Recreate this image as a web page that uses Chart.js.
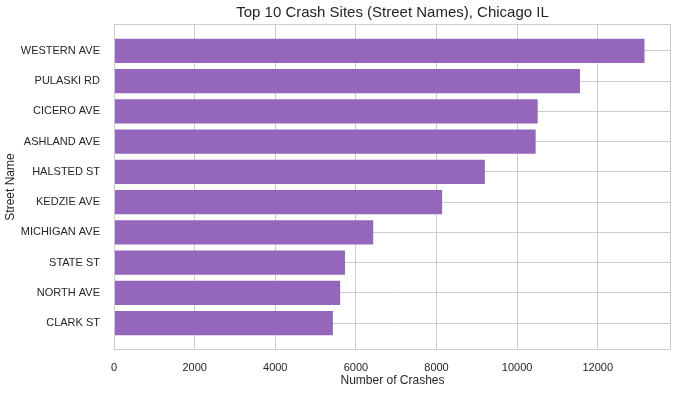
<!DOCTYPE html>
<html>
<head>
<meta charset="utf-8">
<title>Top 10 Crash Sites</title>
<script src="https://cdn.jsdelivr.net/npm/chart.js@4"></script>
<style>
  html, body { margin: 0; padding: 0; background: #fff; }
  canvas { display: block; }
</style>
</head>
<body>
<canvas id="crash-chart" width="678" height="394"></canvas>
<script>
// Streets, most crashes first (top of the chart)
const streets = [
    "WESTERN AVE",
    "PULASKI RD",
    "CICERO AVE",
    "ASHLAND AVE",
    "HALSTED ST",
    "KEDZIE AVE",
    "MICHIGAN AVE",
    "STATE ST",
    "NORTH AVE",
    "CLARK ST",
];

// Number of crashes per street
const crashes = [13160, 11560, 10510, 10460, 9200, 8140, 6430, 5730, 5610, 5430];

// Tick labels on the x axis
const xTicks = [0, 2000, 4000, 6000, 8000, 10000, 12000];

const textColor = '#262626';
const gridColor = '#cccccc';
const fontFamily = '"Liberation Sans", Arial, sans-serif';

// Light grey box round the plot area, like the seaborn whitegrid frame
const frame = {
    id: 'frame',
    afterDatasetsDraw(chart) {
        const { ctx, chartArea: a } = chart;
        ctx.save();
        ctx.strokeStyle = gridColor;
        ctx.lineWidth = 1;
        ctx.strokeRect(a.left + 0.5, a.top + 0.5, a.right - a.left - 1, a.bottom - a.top - 1);
        ctx.restore();
    }
};

const ctx = document.getElementById('crash-chart').getContext('2d');
const myChart = new Chart(ctx, {
    type: 'bar',
    data: {
        datasets: [{
            data: crashes.map((v, i) => ({ x: v, y: i })),
            backgroundColor: '#9467bd',
            borderWidth: 0,
            categoryPercentage: 0.8,
            barPercentage: 1,
        }],
    },
    options: {
        indexAxis: 'y',
        responsive: false,
        animation: false,
        layout: { padding: { top: 0, right: 7, bottom: 0, left: 0 } },
        plugins: {
            legend: { display: false },
            tooltip: { enabled: false },
            title: {
                display: true,
                fullSize: false,
                text: 'Top 10 Crash Sites (Street Names), Chicago IL',
                color: textColor,
                font: { family: fontFamily, size: 15, weight: 'normal', lineHeight: 1.2 },
                padding: { top: 4, bottom: 2 },
            },
        },
        scales: {
            x: {
                type: 'linear',
                min: 0,
                max: 13817,
                afterBuildTicks: (scale) => { scale.ticks = xTicks.map(v => ({ value: v })); },
                afterFit: (scale) => { scale.height = 44; },
                grid: { color: gridColor, lineWidth: 1, drawTicks: false },
                border: { display: false },
                ticks: {
                    color: textColor,
                    font: { family: fontFamily, size: 11 },
                    padding: 11,
                    maxRotation: 0,
                    includeBounds: false,
                    callback: (v) => String(v),
                },
                title: {
                    display: true,
                    text: 'Number of Crashes',
                    color: textColor,
                    font: { family: fontFamily, size: 12 },
                    padding: { top: 0, bottom: 6 },
                },
            },
            y: {
                type: 'linear',
                reverse: true,
                offset: false,
                bounds: 'data',
                min: -0.89,
                max: 9.89,
                afterBuildTicks: (scale) => { scale.ticks = streets.map((s, i) => ({ value: i })); },
                afterFit: (scale) => { scale.width = 114; },
                grid: { color: gridColor, lineWidth: 1, drawTicks: false, offset: false },
                border: { display: false },
                ticks: {
                    color: textColor,
                    font: { family: fontFamily, size: 11 },
                    padding: 14,
                    callback: (v) => streets[v],
                },
                title: {
                    display: true,
                    text: 'Street Name',
                    color: textColor,
                    font: { family: fontFamily, size: 12 },
                    padding: { top: 3, bottom: 0 },
                },
            },
        },
    },
    plugins: [frame],
});
</script>
</body>
</html>
